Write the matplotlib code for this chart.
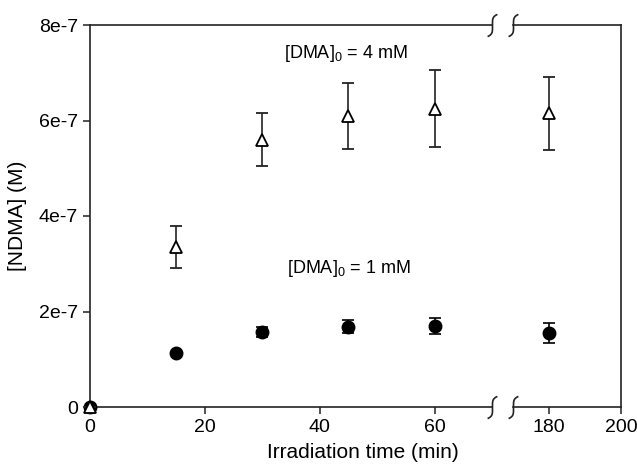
import numpy as np
import matplotlib
matplotlib.use('Agg')
from matplotlib import pyplot as plt
from matplotlib.path import Path

plt.rcParams['font.family'] = ['Liberation Sans', 'DejaVu Sans']
plt.rcParams['mathtext.default'] = 'regular'

# Datos
t_4mM = np.array([0, 15, 30, 45, 60, 180])
ndma_4mM = np.array([0, 3.35e-7, 5.6e-7, 6.1e-7, 6.25e-7, 6.15e-7])
err_4mM = np.array([0, 0.44e-7, 0.55e-7, 0.69e-7, 0.80e-7, 0.77e-7])

t_1mM = np.array([0, 15, 30, 45, 60, 180])
ndma_1mM = np.array([0, 1.13e-7, 1.57e-7, 1.68e-7, 1.70e-7, 1.55e-7])
err_1mM = np.array([0, 0.02e-7, 0.10e-7, 0.14e-7, 0.17e-7, 0.20e-7])

yticks = [0, 2e-7, 4e-7, 6e-7, 8e-7]
ytick_labels = ['0', '2e-7', '4e-7', '6e-7', '8e-7']
xticks_left = [0, 20, 40, 60]
xticks_right = [180, 200]

fs = 14
col = '#222222'

fig = plt.figure(figsize=(6.37, 4.66), dpi=100)
ax1 = fig.add_axes([90/637, 59/466, 402/637, 382/466])
ax2 = fig.add_axes([513/637, 59/466, 108/637, 382/466], sharey=ax1)

for ax, (x0, x1) in ((ax1, (0, 70)), (ax2, (170, 200))):
    m1 = (t_1mM >= x0) & (t_1mM <= x1)
    m4 = (t_4mM >= x0) & (t_4mM <= x1)
    ax.errorbar(t_1mM[m1], ndma_1mM[m1], yerr=err_1mM[m1], fmt='o', color='black',
                markersize=9, capsize=4.5, elinewidth=1.2, capthick=1.2,
                clip_on=False, zorder=3)
    ax.errorbar(t_4mM[m4], ndma_4mM[m4], yerr=err_4mM[m4], fmt='^', color=col,
                mfc='white', mec='black', mew=1.3, markersize=8,
                capsize=4.5, elinewidth=1.2, capthick=1.2,
                clip_on=False, zorder=4)
    ax.set_xlim(x0, x1)
    for s in ax.spines.values():
        s.set_color(col)
        s.set_linewidth(1.2)
    ax.tick_params(direction='out', length=5, width=1.1, color=col,
                   labelsize=fs, top=False, right=False)

ax1.set_ylim(0, 8e-7)
ax1.set_xticks(xticks_left)
ax2.set_xticks(xticks_right)
ax1.set_yticks(yticks)
ax1.set_yticklabels(ytick_labels)
ax1.spines['right'].set_visible(False)
ax2.spines['left'].set_visible(False)
ax2.tick_params(left=False, labelleft=False)

# Marcas de corte del eje (forma de integral)
s = np.linspace(-1, 1, 40)
corte = Path(np.column_stack([0.22 * s**5, 0.5 * s]))
for ax, xa in ((ax1, 1), (ax2, 0)):
    for ya in (0, 1):
        ax.plot(xa, ya, marker=corte, markersize=16, mfc='none', mec=col,
                mew=1.2, transform=ax.transAxes, clip_on=False, zorder=5)

ax1.text(44.5, 7.41e-7, '[DMA]$_0$ = 4 mM', ha='center', va='center', fontsize=13)
ax1.text(45, 2.91e-7, '[DMA]$_0$ = 1 mM', ha='center', va='center', fontsize=13)

fig.text(363/637, 13/466, 'Irradiation time (min)', ha='center', va='center', fontsize=15)
fig.text(18/637, 250/466, '[NDMA] (M)', ha='center', va='center', rotation=90, fontsize=15)

plt.savefig('out.png', dpi=100)
